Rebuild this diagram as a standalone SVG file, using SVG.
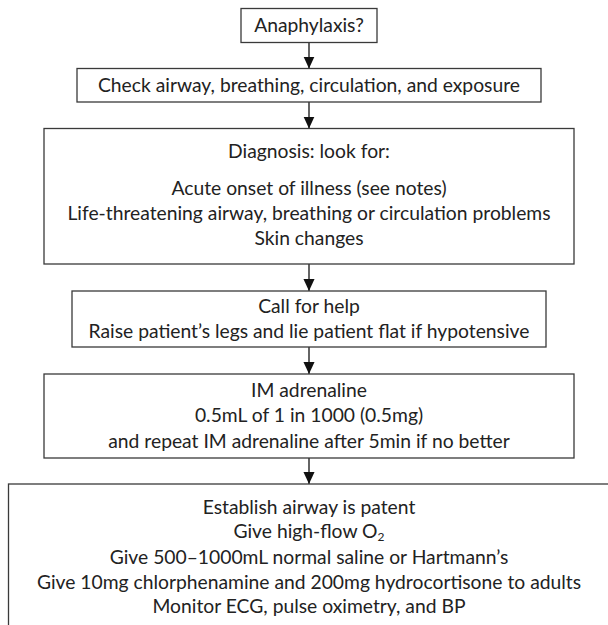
<svg xmlns="http://www.w3.org/2000/svg" width="608" height="625" viewBox="0 0 608 625">
<defs>
<marker id="arr" markerUnits="userSpaceOnUse" markerWidth="12" markerHeight="13" viewBox="0 0 13 12" refX="13" refY="6" orient="auto">
<path d="M0,0 L13,6 L0,12 Z" fill="#111"/>
</marker>
</defs>
<style>
rect.box{fill:#fff;stroke:#3a3a3a;stroke-width:1.3}
text{font-family:"Lato","Liberation Sans",sans-serif;font-size:19.3px;fill:#222;text-anchor:middle}
.conn line{stroke:#111;stroke-width:1.3}
</style>
<rect width="608" height="625" fill="#fff"/>
<g class="conn">
<line x1="309" y1="42.5" x2="309" y2="68.5" marker-end="url(#arr)"/>
<line x1="309" y1="102" x2="309" y2="128.5" marker-end="url(#arr)"/>
<line x1="309" y1="264" x2="309" y2="291" marker-end="url(#arr)"/>
<line x1="309" y1="347" x2="309" y2="374" marker-end="url(#arr)"/>
<line x1="309" y1="458" x2="309" y2="484" marker-end="url(#arr)"/>
</g>
<g id="n1">
<rect class="box" x="241" y="8.5" width="136" height="34"/>
<text x="309" y="32">Anaphylaxis?</text>
</g>
<g id="n2">
<rect class="box" x="77" y="68.5" width="464" height="33.5"/>
<text x="309" y="92">Check airway, breathing, circulation, and exposure</text>
</g>
<g id="n3">
<rect class="box" x="44" y="128.5" width="530" height="135.5"/>
<text x="309" y="158">Diagnosis: look for:</text>
<text x="309" y="195">Acute onset of illness (see notes)</text>
<text x="309" y="220">Life-threatening airway, breathing or circulation problems</text>
<text x="309" y="245">Skin changes</text>
</g>
<g id="n4">
<rect class="box" x="72" y="291" width="474" height="56"/>
<text x="309" y="313">Call for help</text>
<text x="309" y="338">Raise patient’s legs and lie patient flat if hypotensive</text>
</g>
<g id="n5">
<rect class="box" x="44" y="374" width="530" height="84"/>
<text x="309" y="397">IM adrenaline</text>
<text x="309" y="422">0.5mL of 1 in 1000 (0.5mg)</text>
<text x="309" y="448">and repeat IM adrenaline after 5min if no better</text>
</g>
<g id="n6">
<rect class="box" x="8.5" y="484" width="620" height="160"/>
<text x="309" y="514">Establish airway is patent</text>
<text x="309" y="537.5">Give high-flow O<tspan font-size="12" dy="3">2</tspan></text>
<text x="309" y="564">Give 500–1000mL normal saline or Hartmann’s</text>
<text x="309" y="588.5">Give 10mg chlorphenamine and 200mg hydrocortisone to adults</text>
<text x="309" y="612.5">Monitor ECG, pulse oximetry, and BP</text>
</g>
</svg>
